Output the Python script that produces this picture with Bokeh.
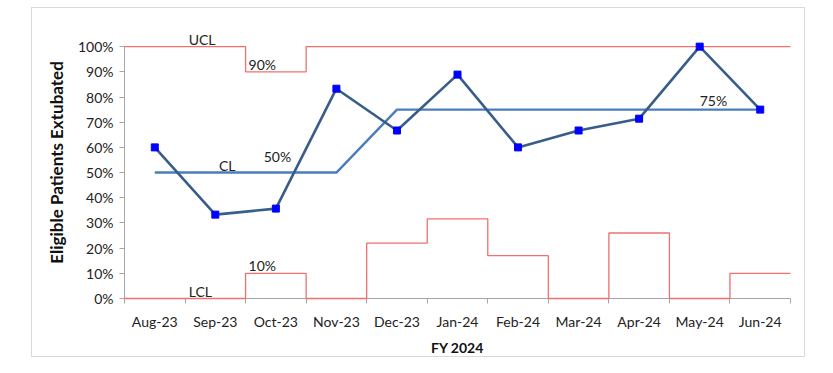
import numpy as np
from bokeh.plotting import figure
from bokeh.models import FixedTicker, Range1d, NumeralTickFormatter
from bokeh.core.properties import value
from bokeh.embed import file_html
from bokeh.resources import INLINE

categories = ["Aug-23", "Sep-23", "Oct-23", "Nov-23", "Dec-23", "Jan-24",
              "Feb-24", "Mar-24", "Apr-24", "May-24", "Jun-24"]
pct_extubated = [60.0, 33.3, 35.7, 83.3, 66.7, 88.9, 60.0, 66.7, 71.4, 100.0, 75.0]
center_line = [50, 50, 50, 50, 75, 75, 75, 75, 75, 75, 75]
ucl = [100, 100, 90, 100, 100, 100, 100, 100, 100, 100, 100]
lcl = [0, 0, 10, 0, 22, 31.6, 17, 0, 26, 0, 10]
y_ticks = [0, 10, 20, 30, 40, 50, 60, 70, 80, 90, 100]

label_text = ["UCL", "90%", "CL", "50%", "75%", "10%", "LCL"]
label_x = [1.06, 2.05, 1.56, 2.3, 9.5, 2.05, 1.06]
label_y = [100, 90, 50, 53.5, 75.5, 10, 0]

FONT = "Lato"
n = len(categories)
xc = np.arange(n) + 0.5
edges = list(range(n + 1))

p = figure(width=774, height=350, output_backend="svg", toolbar_location=None,
           x_range=Range1d(0, n), y_range=Range1d(0, 108),
           min_border_left=92, min_border_right=16, min_border_top=18, min_border_bottom=56)
p.margin = (7, 0, 0, 31)
p.styles = {"border": "1px solid #d9d9d9"}
p.outline_line_color = None
p.xgrid.visible = False
p.ygrid.visible = False
p.background_fill_color = "white"
p.border_fill_color = "white"

# control limit steps
p.step(x=edges, y=ucl + [ucl[-1]], mode="after", line_color="#F07070", line_width=1.3,
       level="overlay")
p.step(x=edges, y=lcl + [lcl[-1]], mode="after", line_color="#F07070", line_width=1.3,
       level="overlay")

# center line
p.line(x=xc, y=center_line, line_color="#4A7EBB", line_width=2.4)

# data
p.line(x=xc, y=pct_extubated, line_color="#385D8A", line_width=2.6)
p.scatter(x=xc, y=pct_extubated, marker="square", size=7, fill_color="#0000FF",
          line_color="#0000FF", level="overlay")

p.text(x=label_x, y=label_y, text=label_text, text_font=value(FONT),
       text_font_size="14px", text_color="#222222", text_baseline="bottom",
       text_align="left", y_offset=1)

# axes
p.xaxis.ticker = FixedTicker(ticks=list(xc), minor_ticks=edges)
p.xaxis.major_label_overrides = {float(x): c for x, c in zip(xc, categories)}
p.xaxis.major_tick_out = 0
p.xaxis.major_tick_in = 0
p.xaxis.minor_tick_out = 5
p.xaxis.minor_tick_in = 0
p.xaxis.minor_tick_line_color = "#A6A6A6"
p.xaxis.axis_line_color = "#A6A6A6"
p.xaxis.major_label_standoff = 9
p.xaxis.axis_label = "FY 2024"
p.xaxis.axis_label_standoff = 6
p.xaxis.axis_label_text_font_style = "bold"

p.yaxis.ticker = FixedTicker(ticks=y_ticks, minor_ticks=[])
p.yaxis.bounds = (0, 100)
p.yaxis.formatter = NumeralTickFormatter(format="0")
p.yaxis.major_label_overrides = {t: f"{t}%" for t in y_ticks}
p.yaxis.major_tick_out = 5
p.yaxis.major_tick_in = 0
p.yaxis.major_tick_line_color = "#A6A6A6"
p.yaxis.axis_line_color = "#A6A6A6"
p.yaxis.major_label_standoff = 6
p.yaxis.axis_label = "Eligible Patients Extubated"
p.yaxis.axis_label_standoff = 8
p.yaxis.axis_label_text_font_style = "bold"

for ax in (p.xaxis, p.yaxis):
    ax.major_label_text_font = FONT
    ax.major_label_text_font_size = "14px"
    ax.major_label_text_color = "#222222"
    ax.axis_label_text_font = FONT
    ax.axis_label_text_font_size = "14px"
    ax.axis_label_text_color = "#111111"
p.yaxis.axis_label_text_font_size = "17px"

open("out.html", "w").write(file_html(p, INLINE))
